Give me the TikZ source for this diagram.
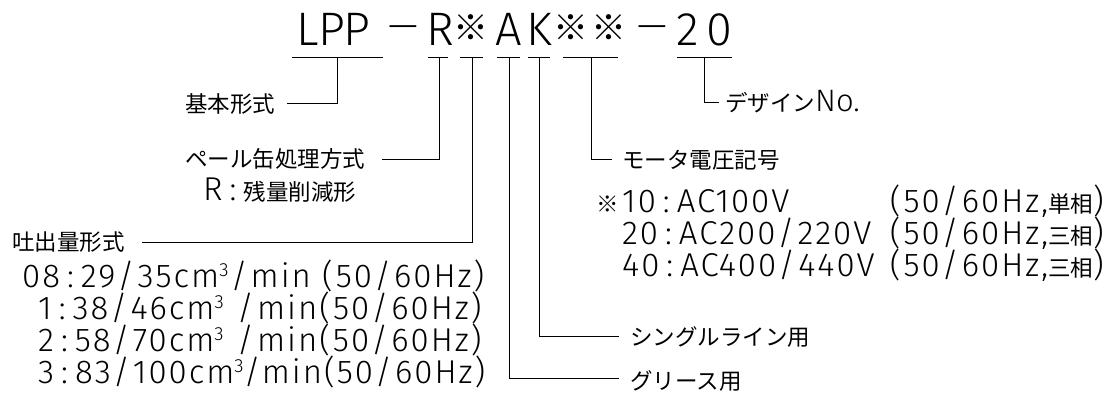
\documentclass[tikz,border=0pt]{standalone}
\usepackage{fontspec}
\setmainfont{Noto Sans CJK JP}
\newfontfamily\jpf{Noto Sans CJK JP}
\newfontfamily\ttlf{Fira Sans Light}
\newfontfamily\latf{Fira Sans Light}[LetterSpace=6]
\newcommand\jc[1]{{\jpf\fontsize{22.5}{27}\selectfont #1}}
\newcommand\cubic{\raisebox{10.5pt}{\fontsize{19}{19}\selectfont 3}}
\newcommand\cln{\hspace{7pt}:\hspace{7pt}}
\newcommand\sla{\hspace{2pt}/\hspace{3pt}}
\newcommand\opn{(\hspace{3pt}}
\tikzset{
  ln/.style={line width=1pt, black},
  jp/.style={anchor=base west, inner sep=0pt, font=\jpf\fontsize{22.5}{27}\selectfont},
  lat/.style={anchor=base west, inner sep=0pt, font=\latf\fontsize{33}{36}\selectfont},
  late/.style={lat, anchor=base east},
  ttl/.style={anchor=base, inner sep=0pt, font=\ttlf\fontsize{47}{50}\selectfont},
  ttld/.style={anchor=center, inner sep=0pt, font=\ttlf\fontsize{38}{40}\selectfont},
  ttlk/.style={anchor=center, inner sep=0pt, font=\jpf\fontsize{35}{40}\selectfont},
}
\begin{document}
\begin{tikzpicture}[x=1pt,y=-1pt]
\useasboundingbox (0,0) rectangle (1115,418);
% title
\node[ttl] (t1) at (308,45) {L};
\node[ttl] (t2) at (332,45) {P};
\node[ttl] (t3) at (357,45) {P};
\node[ttld] (t4) at (403,32) {—};
\node[ttl] (t5) at (440,45) {R};
\node[ttlk] (t6) at (471,28) {※};
\node[ttl] (t7) at (509,45) {A};
\node[ttl] (t8) at (539,45) {K};
\node[ttlk] (t9) at (571,28) {※};
\node[ttlk] (t10) at (609,28) {※};
\node[ttld] (t11) at (652,32) {—};
\node[ttl] (t12) at (688,45) {2};
\node[ttl] (t13) at (719,45) {0};
% labels
\node[jp] (kihon) at (185,112) {基本形式};
\node[jp] (pail) at (185,167) {ペール缶処理方式};
\node[jp] (pailr) at (203,200) {{\latf\fontsize{33}{36}\selectfont R\cln}残量削減形};
\node[jp] (tosh) at (12,250) {吐出量形式};
\node[jp] (design) at (725,111) {デザイン{\ttlf\fontsize{31}{34}\selectfont No.}};
\node[jp] (motor) at (622,168) {モータ電圧記号};
\node[jp] (single) at (630,345) {シングルライン用};
\node[jp] (grease) at (630,389) {グリース用};
% flow rows
\node[lat] (f1) at (22,287) {08\cln 29\sla 35cm\cubic\sla min \opn 50\sla 60Hz)};
\node[lat] (f2) at (38,319) {1\cln 38\sla 46cm\cubic\ \sla min\opn 50\sla 60Hz)};
\node[lat] (f3) at (38,351) {2\cln 58\sla 70cm\cubic\ \sla min\opn 50\sla 60Hz)};
\node[lat] (f4) at (38,383) {3\cln 83\sla 100cm\cubic/min(50\sla 60Hz)};
% motor rows
\node[jp] (m0) at (596,212) {※};
\node[lat] (m1) at (622,212) {10\cln AC100V};
\node[late] (m1p) at (1104,212) {\opn 50\sla 60Hz,\jc{単相})};
\node[lat] (m2) at (622,244) {20\cln AC200\sla 220V};
\node[late] (m2p) at (1104,244) {\opn 50\sla 60Hz,\jc{三相})};
\node[lat] (m3) at (622,276) {40\cln AC400\sla 440V};
\node[late] (m3p) at (1104,276) {\opn 50\sla 60Hz,\jc{三相})};
% coordinates
\coordinate (uLa) at (292,57); \coordinate (uLb) at (383,57);
\coordinate (uRa) at (428,57); \coordinate (uRb) at (448,57);
\coordinate (uXa) at (460,57); \coordinate (uXb) at (483,57);
\coordinate (uAa) at (497,57); \coordinate (uAb) at (520,57);
\coordinate (uKa) at (528,57); \coordinate (uKb) at (550,57);
\coordinate (uMa) at (563,57); \coordinate (uMb) at (618,57);
\coordinate (uDa) at (677,57); \coordinate (uDb) at (732,57);
\coordinate (sL) at (337,57); \coordinate (eL) at (287,103);
\coordinate (sR) at (439,57); \coordinate (eR) at (382,159);
\coordinate (sX) at (472,57); \coordinate (eX) at (142,242);
\coordinate (sA) at (509,57); \coordinate (eA) at (619,378);
\coordinate (sK) at (539,57); \coordinate (eK) at (619,336);
\coordinate (sM) at (591,57); \coordinate (eM) at (612,159);
\coordinate (sD) at (704,57); \coordinate (eD) at (719,102);
\foreach \p in {L,R,X,A,K,M,D} {\draw[ln] (u\p a) -- (u\p b);}
\draw[ln] (sL) |- (eL);
\draw[ln] (sR) |- (eR);
\draw[ln] (sX) |- (eX);
\draw[ln] (sA) |- (eA);
\draw[ln] (sK) |- (eK);
\draw[ln] (sM) |- (eM);
\draw[ln] (sD) |- (eD);
\end{tikzpicture}
\end{document}
